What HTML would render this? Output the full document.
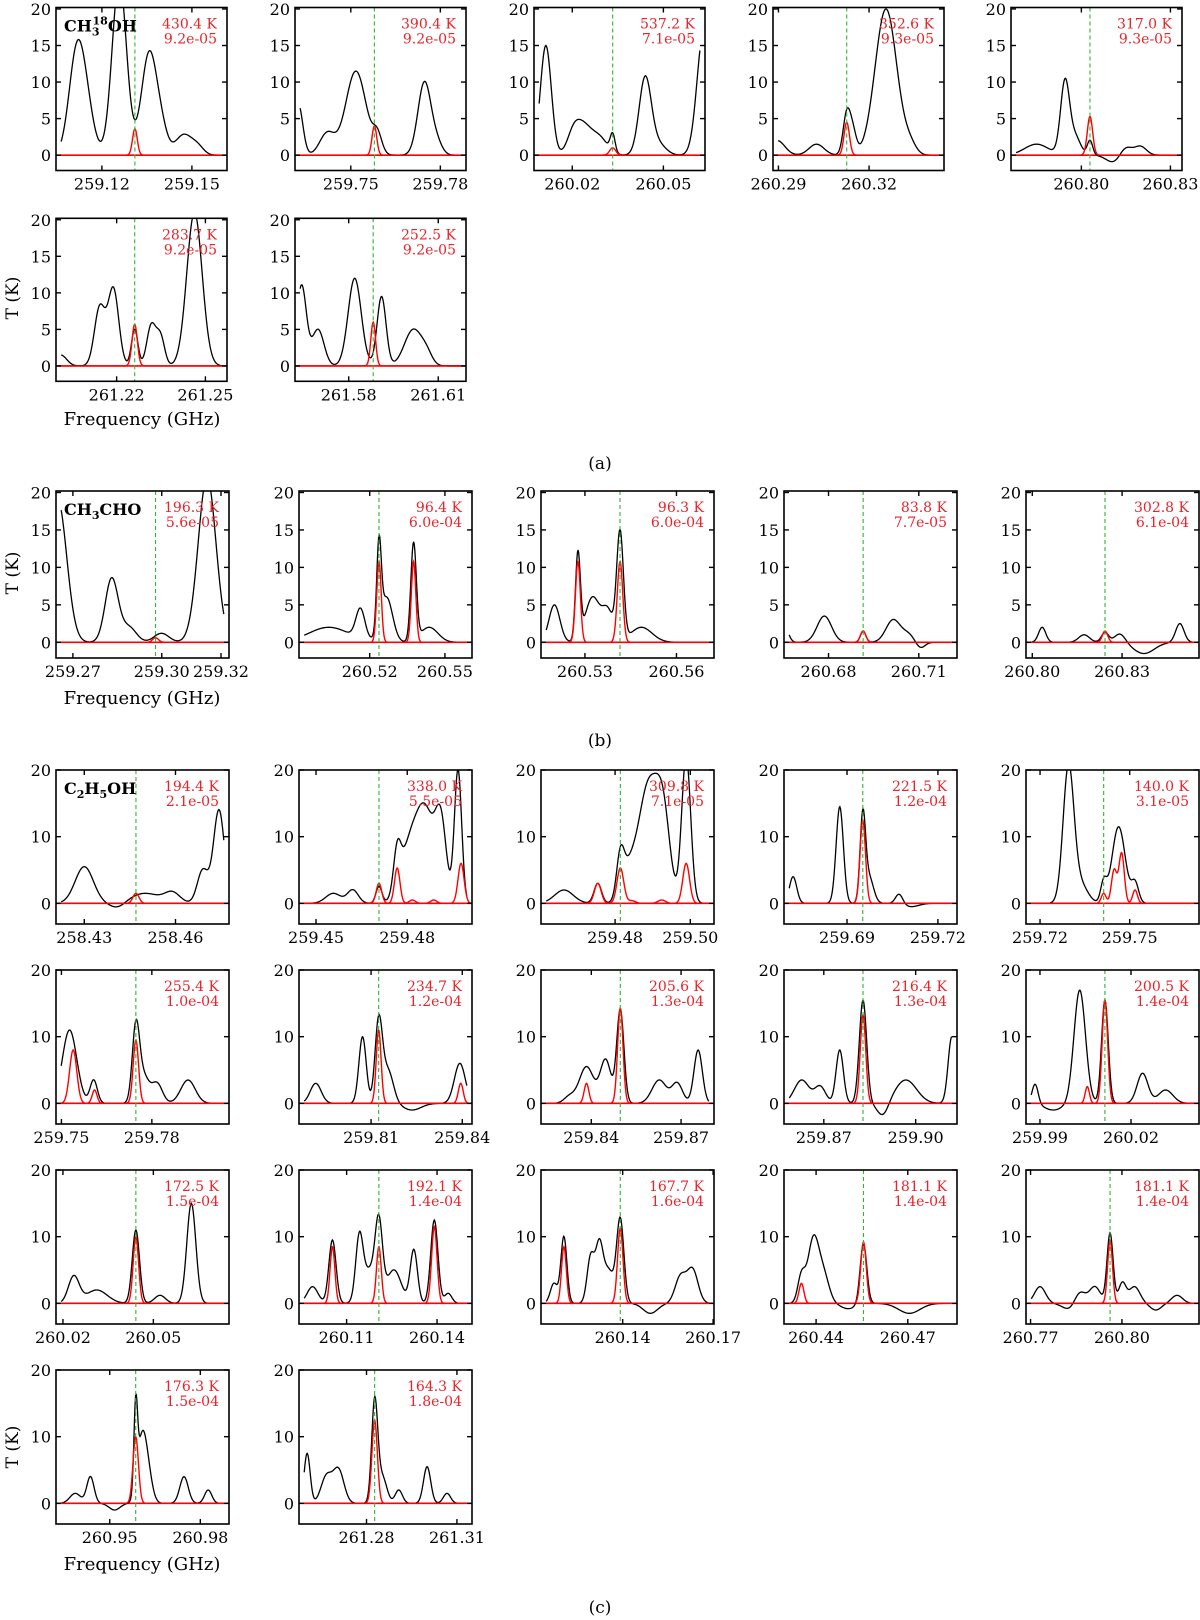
<!DOCTYPE html>
<html><head><meta charset="utf-8"><style>
html,body{margin:0;padding:0;background:#fff;}
svg{display:block;font-family:"DejaVu Serif","Liberation Serif",serif;}
</style></head><body>
<svg id="fig" width="1200" height="1620" viewBox="0 0 1200 1620" xmlns="http://www.w3.org/2000/svg">
<text x="142" y="425" font-size="18" text-anchor="middle">Frequency (GHz)</text>
<text transform="translate(18,298) rotate(-90)" font-size="17" text-anchor="middle">T (K)</text>
<text x="600" y="469" font-size="17" text-anchor="middle">(a)</text>
<text x="142" y="704" font-size="18" text-anchor="middle">Frequency (GHz)</text>
<text transform="translate(18,573) rotate(-90)" font-size="17" text-anchor="middle">T (K)</text>
<text x="600" y="746" font-size="17" text-anchor="middle">(b)</text>
<text x="142" y="1570" font-size="18" text-anchor="middle">Frequency (GHz)</text>
<text transform="translate(18,1447) rotate(-90)" font-size="17" text-anchor="middle">T (K)</text>
<text x="600" y="1613" font-size="17" text-anchor="middle">(c)</text>
</svg>
<script>
// ---- data ----
const panelSection = ["a","a","a","a","a","a","a","b","b","b","b","b","c","c","c","c","c","c","c","c","c","c","c","c","c","c","c","c","c"];
const panelRow =     [0,0,0,0,0,1,1, 0,0,0,0,0, 0,0,0,0,0,1,1,1,1,1,2,2,2,2,2,3,3];
const panelCol =     [0,1,2,3,4,0,1, 0,1,2,3,4, 0,1,2,3,4,0,1,2,3,4,0,1,2,3,4,0,1];
const tempLabels = ["430.4 K","390.4 K","537.2 K","352.6 K","317.0 K","283.7 K","252.5 K",
 "196.3 K","96.4 K","96.3 K","83.8 K","302.8 K",
 "194.4 K","338.0 K","309.8 K","221.5 K","140.0 K","255.4 K","234.7 K","205.6 K","216.4 K","200.5 K",
 "172.5 K","192.1 K","167.7 K","181.1 K","181.1 K","176.3 K","164.3 K"];
const abundLabels = ["9.2e-05","9.2e-05","7.1e-05","9.3e-05","9.3e-05","9.2e-05","9.2e-05",
 "5.6e-05","6.0e-04","6.0e-04","7.7e-05","6.1e-04",
 "2.1e-05","5.5e-05","7.1e-05","1.2e-04","3.1e-05","1.0e-04","1.2e-04","1.3e-04","1.3e-04","1.4e-04",
 "1.5e-04","1.4e-04","1.6e-04","1.4e-04","1.4e-04","1.5e-04","1.8e-04"];
const lineFreqs = [259.1310,259.7579,260.0333,260.3126,260.8029,261.2261,261.5882,
 259.2979,260.5237,260.5415,260.6915,260.8243,
 258.4470,259.4707,259.4814,259.6952,259.7413,259.7747,259.8125,259.8497,259.8828,260.0114,
 260.0442,260.1207,260.1392,260.4555,260.7961,260.9586,261.2827];
const xMins = [259.1047,259.7313,260.0074,260.2882,260.7763,261.1995,261.5620,
 259.2643,260.4918,260.5156,260.6652,260.7979,
 258.4207,259.4444,259.4603,259.6692,259.7153,259.7482,259.7863,259.8232,259.8570,259.9854,
 260.0177,260.0942,260.1129,260.4295,260.7685,260.9322,261.2576];
const xMaxs = [259.1617,259.7886,260.0637,260.3448,260.8339,261.2573,261.6193,
 259.3227,260.5608,260.5723,260.7227,260.8557,
 258.4776,259.5013,259.5063,259.7263,259.7732,259.8056,259.8432,259.8810,259.9135,260.0424,
 260.0751,260.1516,260.1703,260.4861,260.8253,260.9895,261.3150];
const xTicks = [[259.12,259.15],[259.75,259.78],[260.02,260.05],[260.29,260.32],[260.80,260.83],[261.22,261.25],[261.58,261.61],
 [259.27,259.30,259.32],[260.52,260.55],[260.53,260.56],[260.68,260.71],[260.80,260.83],
 [258.43,258.46],[259.45,259.48],[259.48,259.50],[259.69,259.72],[259.72,259.75],[259.75,259.78],[259.81,259.84],[259.84,259.87],[259.87,259.90],[259.99,260.02],
 [260.02,260.05],[260.11,260.14],[260.14,260.17],[260.44,260.47],[260.77,260.80],[260.95,260.98],[261.28,261.31]];
// observed peaks: [offset from line (MHz), amplitude (K), sigma (MHz)]
const obsPeaks = [
 [[-19.4,13.5,2.6],[-16,5,2.5],[-5.2,24,2.4],[4.8,14,2.6],[9,2.5,2],[16.3,2.8,2.8],[21,1,2]],
 [[-25.5,7,1.5],[-15.8,3,2.5],[-6.2,11.5,3.4],[1,2.5,1.5],[16.8,10,2.2],[21,1.5,1.8]],
 [[-22,15,1.8],[-13,2,2],[-9.7,4,3],[-4,2,2.5],[0,2.5,0.8],[10.7,10.5,2],[15,1.5,2.5],[30,17,2.2]],
 [[-23,2,2.5],[-10,1.5,2.5],[0,5.5,1.2],[2,3,1.2],[13,20,3.6],[21,1.2,2]],
 [[-18,1.5,4],[-8.4,10,1.5],[-5,2.5,1.8],[0,2,0.9],[8,-1,2.5],[12,1.2,2],[17,1.2,2]],
 [[-25,1.5,2],[-11.8,8,1.8],[-7.2,10.5,1.8],[0,5,1.1],[5.6,5.5,1.5],[8.7,4,1.4],[20.2,21,2.6]],
 [[-24,11,1.6],[-18.5,5,2],[-6.2,12,2.2],[2.8,9.5,1.5],[13.5,5,3],[18,1.2,1.8]],
 [[-33,19,3],[-14.8,8.5,2.2],[-9,2,2.5],[2,1.2,2.5],[17.4,22,3],[28,7.5,1.4]],
 [[-20,2,8],[-7.4,4,1.8],[0,11.5,0.9],[3,6,2.4],[13.8,13,1.1],[20,2,3.5]],
 [[-21.5,5,1.8],[-13.8,11.5,0.8],[-9,6,2.4],[-4,4,1.8],[0,14.5,1.1],[7,2,3.5]],
 [[-26,2,1.2],[-12.9,3.5,2.4],[0,1.5,0.9],[10,3,2.4],[15,1,2],[19,-0.8,1.5]],
 [[-21,2,1.2],[-7,1,1.8],[0,1.3,1.2],[5,1.2,1.8],[13,-1.5,3.5],[25,2.5,1.4]],
 [[-17,5.5,3],[-6,-0.8,2.5],[3,1.5,5],[12,1.5,2.5],[22,5,1.8],[27.3,14,1.8]],
 [[-15,1.5,2.5],[-8.6,2,1.8],[0,2.5,1],[6,6,1.2],[10,8,3],[15.4,13,3],[20.4,11,1.8],[26,20,1.2]],
 [[-15,2,2.5],[-6,3,1],[0,6,1],[2,4,1.8],[6,8,2.4],[8.4,12,2.4],[11.5,11,1.8],[17.5,22,1.2]],
 [[-23,4,1.2],[-7.6,14.5,1.2],[0,12.5,0.9],[2,4,1.5],[12,1.5,1.2],[16,-0.5,2.5]],
 [[-11.8,20,1.8],[-8,3,2.5],[0,3,1],[5,11.5,2.2],[10.5,3,1.2]],
 [[-22,11,2.4],[-14,3.5,1.2],[0,11,1.2],[2.5,4,1.8],[7,3,1.8],[17.3,3.5,2.4]],
 [[-20.7,3,1.8],[-5.3,10,1.2],[0,12,1.2],[3,5,1.8],[11,-1,3],[26.7,6,1.8]],
 [[-17,1,1.8],[-11.3,5.5,2.4],[-4.9,6.5,1.8],[0,14,1.2],[13,3.5,2.4],[19,3,1.8],[26,8,1.4]],
 [[-20,3.5,2.4],[-14,2.5,1.8],[-7.6,8,1.2],[0,15.5,1.2],[6.5,-2,1.8],[14,3.5,3.5],[29,10,1.2]],
 [[-23,3,1],[-17,-1,3],[-8.3,17,1.9],[0,15.5,1.1],[12.4,4.5,1.8],[20,2,2.4]],
 [[-20.6,4,1.8],[-13,2,3.5],[0,11,1.2],[8,1.2,1.8],[18.4,15,1.5]],
 [[-22,2.5,1.8],[-15.4,9.5,1.2],[-6.5,9,1.2],[-3,5,2.4],[0,10.5,1.2],[5,5,2.4],[11.6,8,1.2],[18.4,12.5,1.2],[23,1.5,1.2]],
 [[-22,3,1.2],[-18.7,10,1],[-9.8,7,1.2],[-7,8,1.2],[-4,5,1.8],[0,12.5,1.2],[10,-1.5,2.4],[20,4,1.8],[24,5,1.8]],
 [[-20.3,4,1.2],[-16.4,9.5,1.8],[-13,4,1.8],[-5,-0.8,2.4],[0,9,1.1],[15,-1.5,3.5]],
 [[-23,2.5,1.8],[-13,-1,2.4],[-10,2,1.8],[-5,2.5,1.8],[0,10.5,1],[4,3,1.2],[8,2.5,1.8],[15,-1,1.8],[22,1.2,1.8]],
 [[-20,1.5,1.8],[-15,4,1.2],[-7,-1,1.8],[0,12.5,0.6],[2,9,1.5],[4,4,1.5],[16,4,1.4],[24,2,1.2]],
 [[-22.4,7.5,1],[-16,4,1.8],[-12,5,1.8],[0,15,1],[2.5,4,1.5],[8,2,1.2],[17.4,5.5,1.2],[24,1.5,1.2]]
];
// model peaks: [offset from line (MHz), amplitude (K), sigma (MHz)]
const modelPeaks = [
 [[0,3.6,0.8]],[[0,4,0.8]],[[0,1,1]],[[0,4.5,0.9]],[[0,5.3,0.9]],[[0,5.7,0.9]],[[0,6,0.8]],
 [[0,0.6,1]],[[0,10.8,0.9],[13.8,10.8,0.9]],[[-13.8,10.8,0.8],[0,10.8,0.9]],[[0,1.5,0.9]],[[0,1.5,0.9]],
 [[0,1.5,1.0]],
 [[0,3,0.9],[6,5.3,0.9],[11,0.5,1],[18,0.5,1],[27,6,1.0]],
 [[-6,3,0.9],[0,5.3,0.9],[3,0.4,1],[11,0.5,1],[17.5,6,0.9]],
 [[0,12.5,0.9]],
 [[0,1.5,0.8],[3.5,5,0.9],[6,7.5,0.9],[10.5,2,0.8]],
 [[-20.8,8,1.2],[-13.7,2,0.8],[0,9.5,0.9]],
 [[0,11,0.8],[27,3,0.8]],
 [[-11.3,3,0.8],[0,14.3,0.9]],
 [[0,13.3,0.9]],
 [[-5.8,2.5,0.7],[0,15.5,0.9]],
 [[0,10,0.9]],
 [[-15.4,8.5,0.8],[0,8.5,0.8],[18.4,11.5,0.9]],
 [[-18.7,8.5,0.8],[0,11.3,0.9]],
 [[-20.3,3,0.8],[0,9.2,0.9]],
 [[0,9.5,0.8]],
 [[0,10,0.9]],
 [[0,12.5,0.9]]
];
const panelTitles = {0:"CH3_18OH", 7:"CH3CHO", 12:"C2H5OH"};

// ---- layout ----
const secCols = {a:[56,295,534,773,1011], b:[56,299,541,784,1026], c:[56,299,541,784,1026]};
const secWidth = {a:171, b:173, c:173};
const secRows = {a:[7.5,218.3], b:[491], c:[770,970,1170,1370]};
const secHeight = {a:163, b:167, c:154};
const secYlim = {a:[-2.1,20.2], b:[-2.1,20.2], c:[-3.1,20]};
const secYticks = {a:[0,5,10,15,20], b:[0,5,10,15,20], c:[0,10,20]};

const NS = "http://www.w3.org/2000/svg";
const svg = document.getElementById("fig");
function mk(tag, attrs, parent){
  const e = document.createElementNS(NS, tag);
  for (const k in attrs) e.setAttribute(k, attrs[k]);
  (parent||svg).appendChild(e);
  return e;
}
function gauss(peaks, fGHz, f0){
  let s = 0;
  for (const p of peaks){
    const d = (fGHz - f0)*1000 - p[0];
    s += p[1]*Math.exp(-0.5*d*d/(p[2]*p[2]));
  }
  return s;
}

for (let i = 0; i < tempLabels.length; i++){
  const sec = panelSection[i];
  const L = secCols[sec][panelCol[i]], W = secWidth[sec];
  const T = secRows[sec][panelRow[i]], H = secHeight[sec];
  const yl = secYlim[sec];
  const x0 = xMins[i], x1 = xMaxs[i];
  const X = f => L + (f - x0)/(x1 - x0)*W;
  const Y = v => T + H - (v - yl[0])/(yl[1]-yl[0])*H;

  const g = mk("g", {});
  
  
  const cid = "clip" + i;
  const cp = mk("clipPath", {id: cid}, g);
  mk("rect", {x: L, y: T, width: W, height: H}, cp);

  const zl = mk("line", {x1: L, x2: L+W, y1: Y(0), y2: Y(0), stroke: "#ff0000", "stroke-width": 1.6}, g);
  
  

  const n = 260;
  let d = "";
  const fa = x0 + (x1-x0)*0.03, fb = x1 - (x1-x0)*0.03;
  for (let k = 0; k <= n; k++){
    const f = fa + (fb-fa)*k/n;
    const v = gauss(obsPeaks[i], f, lineFreqs[i]);
    d += (k ? "L" : "M") + X(f).toFixed(2) + "," + Y(v).toFixed(2);
  }
  const obs = mk("path", {d: d, fill: "none", stroke: "#000", "stroke-width": 1.3, "clip-path": "url(#" + cid + ")"}, g);
  
  

  let dm = "";
  for (let k = 0; k <= 400; k++){
    const f = x0 + (x1-x0)*k/400;
    const v = gauss(modelPeaks[i], f, lineFreqs[i]);
    dm += (k ? "L" : "M") + X(f).toFixed(2) + "," + Y(v).toFixed(2);
  }
  const mod = mk("path", {d: dm, fill: "none", stroke: "#ff0000", "stroke-width": 1.4, "clip-path": "url(#" + cid + ")"}, g);
  
  

  const gl = mk("line", {x1: X(lineFreqs[i]), x2: X(lineFreqs[i]), y1: T, y2: T+H, stroke: "#2fb52f", "stroke-width": 1.1, "stroke-dasharray": "4,3"}, g);
  
  

  const fr = mk("rect", {x: L, y: T, width: W, height: H, fill: "none", stroke: "#000", "stroke-width": 1.6}, g);
  
  

  for (const v of secYticks[sec]){
    const y = Y(v);
    mk("line", {x1: L, x2: L+5, y1: y, y2: y, stroke: "#000", "stroke-width": 1.4}, g);
    mk("line", {x1: L+W-5, x2: L+W, y1: y, y2: y, stroke: "#000", "stroke-width": 1.4}, g);
    const t = mk("text", {x: L-5, y: y+6, "font-size": 16, "text-anchor": "end"}, g);
    t.textContent = String(v);
    
    
  }
  for (const f of xTicks[i]){
    const x = X(f);
    mk("line", {x1: x, x2: x, y1: T+H, y2: T+H-5, stroke: "#000", "stroke-width": 1.4}, g);
    mk("line", {x1: x, x2: x, y1: T, y2: T+5, stroke: "#000", "stroke-width": 1.4}, g);
    const t = mk("text", {x: x, y: T+H+19, "font-size": 16, "text-anchor": "middle"}, g);
    t.textContent = f.toFixed(2);
    
    
  }
  const t1 = mk("text", {x: L+W-10, y: T+21, "font-size": 14, fill: "#e8232a", "text-anchor": "end"}, g);
  t1.textContent = tempLabels[i];
  
  
  const t2 = mk("text", {x: L+W-10, y: T+36, "font-size": 14, fill: "#e8232a", "text-anchor": "end"}, g);
  t2.textContent = abundLabels[i];
  
  

  if (panelTitles[i]){
    const tt = mk("text", {x: L+8, y: T+24, "font-size": 16, "font-weight": "bold"}, g);
    
    
    const nm = panelTitles[i];
    if (nm === "CH3_18OH"){
      tt.innerHTML = 'CH<tspan font-size="11" dy="4">3</tspan><tspan font-size="11" dx="-7" dy="-11">18</tspan><tspan dy="7">OH</tspan>';
    } else if (nm === "CH3CHO"){
      tt.innerHTML = 'CH<tspan font-size="11" dy="4">3</tspan><tspan dy="-4">CHO</tspan>';
    } else {
      tt.innerHTML = 'C<tspan font-size="11" dy="4">2</tspan><tspan dy="-4">H</tspan><tspan font-size="11" dy="4">5</tspan><tspan dy="-4">OH</tspan>';
    }
  }
}
</script>
</body></html>
